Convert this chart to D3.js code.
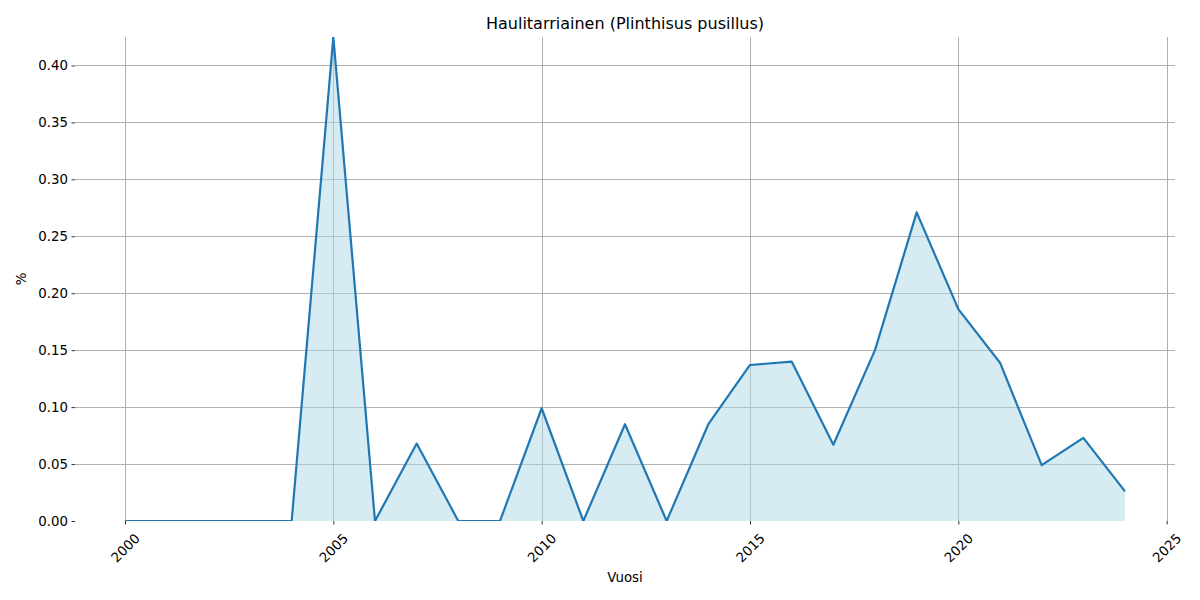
<!DOCTYPE html>
<html>
<head>
<meta charset="utf-8">
<script src="https://cdn.jsdelivr.net/npm/d3@7"></script>
<style>
  body { margin: 0; background: #fff; }
  svg text { font-family: "DejaVu Sans", sans-serif; fill: #000; }
</style>
</head>
<body>
<svg width="1200" height="600"></svg>
<script>
var years = [2000, 2001, 2002, 2003, 2004, 2005, 2006, 2007, 2008, 2009, 2010, 2011, 2012,
             2013, 2014, 2015, 2016, 2017, 2018, 2019, 2020, 2021, 2022, 2023, 2024];
var percent = [0, 0, 0, 0, 0, 0.425, 0, 0.068, 0, 0, 0.099, 0, 0.085,
               0, 0.085, 0.137, 0.140, 0.067, 0.150, 0.271, 0.186, 0.139, 0.049, 0.073, 0.026];
var xTicks = [2000, 2005, 2010, 2015, 2020, 2025];
var yTicks = [0, 0.05, 0.10, 0.15, 0.20, 0.25, 0.30, 0.35, 0.40];

var titleText = 'Haulitarriainen (Plinthisus pusillus)';

// plot box (named to avoid window.top)
var plotLeft = 75, plotRight = 1175, plotTop = 37, plotBottom = 521;

var data = years.map(function (yr, i) { return {year: yr, value: percent[i]}; });

var pad = (d3.max(years) - d3.min(years)) * 0.05;
var x = d3.scaleLinear()
  .domain([d3.min(years) - pad, d3.max(years) + pad])
  .range([plotLeft, plotRight]);
var y = d3.scaleLinear()
  .domain([0, d3.max(percent)])
  .range([plotBottom, plotTop]);

// snap grid lines to pixel centres so they stay crisp
function crisp (v) { return Math.round(v) + 0.5; }

var svg = d3.select('svg');

svg.append('defs').append('clipPath').attr('id', 'plot')
  .append('rect')
  .attr('x', plotLeft).attr('y', plotTop)
  .attr('width', plotRight - plotLeft).attr('height', plotBottom - plotTop);

var grid = svg.append('g').attr('clip-path', 'url(#plot)');

grid.selectAll('line.vg').data(xTicks).enter().append('line')
  .attr('class', 'vg')
  .attr('x1', function (d) { return crisp(x(d)); })
  .attr('x2', function (d) { return crisp(x(d)); })
  .attr('y1', plotTop).attr('y2', plotBottom)
  .attr('stroke', '#b0b0b0').attr('stroke-width', 1);

grid.selectAll('line.hg').data(yTicks).enter().append('line')
  .attr('class', 'hg')
  .attr('x1', plotLeft).attr('x2', plotRight)
  .attr('y1', function (d) { return crisp(y(d)); })
  .attr('y2', function (d) { return crisp(y(d)); })
  .attr('stroke', '#b0b0b0').attr('stroke-width', 1);

var area = d3.area()
  .x(function (d) { return x(d.year); })
  .y0(y(0))
  .y1(function (d) { return y(d.value); });

var line = d3.line()
  .x(function (d) { return x(d.year); })
  .y(function (d) { return y(d.value); });

var plot = svg.append('g').attr('clip-path', 'url(#plot)');

plot.append('path')
  .datum(data)
  .attr('d', area)
  .attr('fill', '#add8e6')
  .attr('fill-opacity', 0.5);

plot.append('path')
  .datum(data)
  .attr('d', line)
  .attr('fill', 'none')
  .attr('stroke', '#1f77b4')
  .attr('stroke-width', 2.2)
  .attr('stroke-linejoin', 'round');

// y axis
var yAxis = d3.axisLeft(y)
  .tickValues(yTicks)
  .tickSize(3.5)
  .tickPadding(3.5)
  .tickFormat(d3.format('.2f'));

var gy = svg.append('g')
  .attr('transform', 'translate(' + plotLeft + ',0)')
  .call(yAxis);
gy.select('.domain').remove();
gy.selectAll('.tick line').attr('stroke', '#000').attr('stroke-width', 0.8);
gy.selectAll('.tick text').style('font-size', '13.33px');

// x axis
var xAxis = d3.axisBottom(x)
  .tickValues(xTicks)
  .tickSize(3.5)
  .tickFormat(d3.format('d'));

var gx = svg.append('g')
  .attr('transform', 'translate(0,' + plotBottom + ')')
  .call(xAxis);
gx.select('.domain').remove();
gx.selectAll('.tick line').attr('stroke', '#000').attr('stroke-width', 0.8);
gx.selectAll('.tick text')
  .style('font-size', '13.33px')
  .attr('y', 0).attr('dy', null)
  .attr('text-anchor', 'middle')
  .attr('dominant-baseline', 'central')
  .attr('transform', 'translate(0,27) rotate(-45)');

svg.append('text')
  .attr('x', (plotLeft + plotRight) / 2).attr('y', 29)
  .attr('text-anchor', 'middle')
  .style('font-size', '16px')
  .text(titleText);

svg.append('text')
  .attr('x', (plotLeft + plotRight) / 2).attr('y', 582)
  .attr('text-anchor', 'middle')
  .style('font-size', '13.33px')
  .text('Vuosi');

svg.append('text')
  .attr('transform', 'translate(26,' + ((plotTop + plotBottom) / 2) + ') rotate(-90)')
  .attr('text-anchor', 'middle')
  .style('font-size', '13.33px')
  .text('%');
</script>
</body>
</html>
